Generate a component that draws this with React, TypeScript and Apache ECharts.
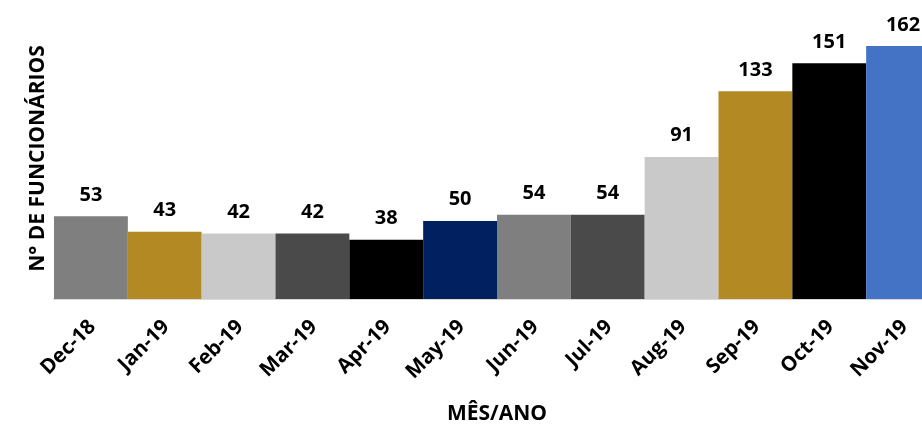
import React, { useEffect, useRef } from "react";
import * as echarts from "echarts";

const categories = ["Dec-18", "Jan-19", "Feb-19", "Mar-19", "Apr-19", "May-19", "Jun-19", "Jul-19", "Aug-19", "Sep-19", "Oct-19", "Nov-19"];
const values = [53, 43, 42, 42, 38, 50, 54, 54, 91, 133, 151, 162];
const barColors = ["#7f7f7f", "#b38923", "#c9c9c9", "#4a4a4a", "#000000", "#002060", "#7f7f7f", "#4a4a4a", "#c9c9c9", "#b38923", "#000000", "#4472c4"];
const xAxisTitle = "MÊS/ANO";
const yAxisTitle = "N° DE FUNCIONÁRIOS";

const FONT = "'Open Sans', 'Noto Sans', sans-serif";

export default function App() {
  const ref = useRef<HTMLDivElement>(null);
  useEffect(() => {
    if (!ref.current) return;
    const chart = echarts.init(ref.current, undefined, { renderer: "svg" });
    chart.setOption({
      animation: false,
      grid: { left: 54, right: 0, top: 18, bottom: 126, containLabel: false },
      xAxis: {
        type: "category",
        data: categories,
        name: xAxisTitle,
        nameLocation: "middle",
        nameGap: 102,
        nameTextStyle: { fontFamily: FONT, fontWeight: "bold", fontSize: 21, color: "#000" },
        axisLine: { show: true, lineStyle: { color: "#d9d9d9", width: 2 } },
        axisTick: { show: false },
        axisLabel: {
          rotate: 45,
          interval: 0,
          margin: 23,
          fontFamily: FONT,
          fontWeight: "bold",
          fontSize: 20.5,
          color: "#000",
        },
      },
      yAxis: {
        type: "value",
        min: 0,
        max: 180,
        name: yAxisTitle,
        nameLocation: "middle",
        nameGap: 8,
        nameTextStyle: { fontFamily: FONT, fontWeight: "bold", fontSize: 21, color: "#000" },
        axisLine: { show: false },
        axisTick: { show: false },
        axisLabel: { show: false },
        splitLine: { show: false },
      },
      series: [
        {
          type: "bar",
          barCategoryGap: "0%",
          data: values.map((v, i) => ({ value: v, itemStyle: { color: barColors[i] } })),
          label: {
            show: true,
            position: "top",
            distance: 13,
            fontFamily: FONT,
            fontWeight: "bold",
            fontSize: 20,
            color: "#000",
          },
        },
      ],
    });
    return () => chart.dispose();
  }, []);
  return (
    <div style={{ position: "fixed", left: 0, top: 0, width: 922, height: 427, overflow: "hidden" }}>
      <div ref={ref} style={{ width: 940, height: 427 }} />
    </div>
  );
}
